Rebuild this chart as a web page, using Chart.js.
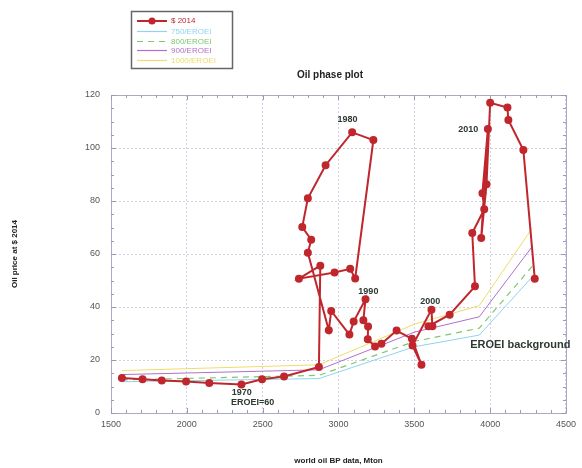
<!DOCTYPE html>
<html>
<head>
<meta charset="utf-8">
<script src="https://cdn.jsdelivr.net/npm/chart.js@4.4.1/dist/chart.umd.min.js"></script>
<style>
html,body{margin:0;padding:0;background:#fff;}
#wrap{width:582px;height:468px;position:relative;}
</style>
</head>
<body>
<div id="wrap"><canvas id="c" width="582" height="468"></canvas></div>
<script>
// World oil production (BP data, Mton), 1965-2015
const production = [1572,1708,1835,1995,2148,2360,2496,2641,2871,2880,
  2739,2974,3077,3110,3230,3090,2915,2798,2761,2820,
  2798,2936,2952,3072,3100,3178,3164,3195,3193,3241,
  3283,3383,3484,3547,3488,3613,3619,3593,3733,3900,
  3882,3961,3949,3985,3941,3976,4000,4114,4120,4219,4294];
// Oil price in $ 2014
const price = [13.2,12.7,12.3,11.9,11.3,10.8,12.7,13.8,17.4,55.6,
  50.7,53.0,54.4,50.8,103.0,105.9,93.5,81.0,70.2,65.4,
  60.5,31.2,38.5,29.6,34.5,42.9,35.0,32.6,27.8,25.1,
  26.1,31.1,28.0,18.2,25.5,39.0,32.7,32.7,37.1,47.8,
  67.9,76.9,82.9,107.2,66.0,86.3,117.1,115.3,110.6,99.2,50.7];
// EROEI background curves
const eroeiX = [1572,2871,3500,3928,4280];
const eroei750 = [11.8,13.0,25.0,29.4,51.5];
const eroei800 = [12.5,14.2,27.0,32.0,55.5];
const eroei900 = [14.5,16.3,30.5,36.3,63.0];
const eroei1000 = [16.0,18.2,33.5,40.5,70.0];
const xTicks = [1500,2000,2500,3000,3500,4000,4500];
const yTicks = [0,20,40,60,80,100,120];
const seriesLabels = ['$ 2014','750/EROEI','800/EROEI','900/EROEI','1000/EROEI'];
const annotations = [
  {text:'1980', x:3059, y:110.6, align:'center'},
  {text:'1990', x:3197, y:45.7, align:'center'},
  {text:'2000', x:3605, y:41.9, align:'center'},
  {text:'2010', x:3855, y:106.8, align:'center'},
  {text:'1970', x:2362, y:7.9, align:'center'},
  {text:'EROEI=60', x:2434, y:3.8, align:'center'},
  {text:'EROEI background', x:3868, y:25.7, align:'left', big:true}
];

const RED = '#c0272d';
const FONT = '"Liberation Sans", Arial, sans-serif';
const pts = (xs, ys) => xs.map((x,i)=>({x:x, y:ys[i]}));

const overlay = {
  id:'overlay',
  beforeDatasetsDraw(chart){
    const {ctx, chartArea:a} = chart;
    ctx.save();
    ctx.strokeStyle = '#a9a9c8';
    ctx.lineWidth = 1;
    ctx.strokeRect(a.left+0.5, a.top+0.5, a.right-a.left, a.bottom-a.top);
    const xs = chart.scales.x, ys = chart.scales.y;
    ctx.strokeStyle = '#9a9ab8';
    for(let v=1500; v<=4500; v+=100){
      const px = Math.round(xs.getPixelForValue(v))+0.5;
      const len = (v%500===0)?5:3;
      ctx.beginPath(); ctx.moveTo(px,a.bottom); ctx.lineTo(px,a.bottom-len);
      ctx.moveTo(px,a.top); ctx.lineTo(px,a.top+len); ctx.stroke();
    }
    for(let v=0; v<=120; v+=5){
      const py = Math.round(ys.getPixelForValue(v))+0.5;
      const len = (v%20===0)?5:3;
      ctx.beginPath(); ctx.moveTo(a.left,py); ctx.lineTo(a.left+len,py);
      ctx.moveTo(a.right,py); ctx.lineTo(a.right-len,py); ctx.stroke();
    }
    ctx.restore();
  },
  afterDraw(chart){
    const {ctx} = chart;
    const xs = chart.scales.x, ys = chart.scales.y;
    ctx.save();
    ctx.fillStyle = '#222';
    ctx.font = 'bold 10px ' + FONT;
    ctx.textAlign = 'center'; ctx.textBaseline = 'middle';
    ctx.fillText('Oil phase plot', 330, 75);
    annotations.forEach(an=>{
      ctx.font = (an.big ? 'bold 11px ' : 'bold 9px ') + FONT;
      ctx.fillStyle = '#2d3a30';
      ctx.textAlign = an.align;
      ctx.fillText(an.text, xs.getPixelForValue(an.x), ys.getPixelForValue(an.y));
    });
    // legend
    ctx.strokeStyle = '#666'; ctx.lineWidth = 1.5;
    ctx.strokeRect(131.5, 11.5, 101, 57);
    const ds = chart.data.datasets;
    const rowY = [21, 31.5, 41.5, 50.5, 60.5];
    ctx.font = '8px ' + FONT;
    ctx.textAlign = 'left';
    ds.forEach((d,i)=>{
      const y = rowY[i];
      ctx.strokeStyle = d.borderColor;
      ctx.lineWidth = i===0 ? 2 : 1.2;
      ctx.setLineDash(d.borderDash || []);
      ctx.beginPath(); ctx.moveTo(137,y); ctx.lineTo(167,y); ctx.stroke();
      ctx.setLineDash([]);
      if(i===0){
        ctx.fillStyle = RED;
        ctx.beginPath(); ctx.arc(152,y,3.5,0,Math.PI*2); ctx.fill();
      }
      ctx.fillStyle = d.borderColor;
      ctx.fillText(d.label, 171, y);
    });
    ctx.restore();
  }
};

new Chart(document.getElementById('c'), {
  type:'scatter',
  data:{
    datasets:[
      {label:seriesLabels[0], data:pts(production, price), showLine:true, borderColor:RED,
       backgroundColor:RED, borderWidth:2, pointRadius:3, pointBackgroundColor:RED, order:0},
      {label:seriesLabels[1], data:pts(eroeiX, eroei750), showLine:true, borderColor:'#8fd3f0',
       borderWidth:1, pointRadius:0, order:4},
      {label:seriesLabels[2], data:pts(eroeiX, eroei800), showLine:true, borderColor:'#7cc96a',
       borderWidth:1.2, borderDash:[6,5], pointRadius:0, order:3},
      {label:seriesLabels[3], data:pts(eroeiX, eroei900), showLine:true, borderColor:'#b070c8',
       borderWidth:1, pointRadius:0, order:2},
      {label:seriesLabels[4], data:pts(eroeiX, eroei1000), showLine:true, borderColor:'#eedc6a',
       borderWidth:1, pointRadius:0, order:1}
    ]
  },
  options:{
    responsive:false, animation:false,
    layout:{padding:{top:95, right:15, left:0, bottom:0}},
    plugins:{legend:{display:false}, tooltip:{enabled:false}},
    scales:{
      x:{type:'linear', min:1500, max:4500,
         afterBuildTicks(s){ s.ticks = xTicks.map(v=>({value:v})); },
         afterFit(s){ s.height = 55; },
         grid:{color:'#d0d0e0', drawTicks:false},
         border:{display:false, dash:[2,2]},
         ticks:{color:'#555', font:{size:9, family:FONT}, padding:6, callback:(v)=>String(v)},
         title:{display:true, text:'world oil BP data, Mton', color:'#222',
                font:{size:8, weight:'bold', family:FONT}, padding:{top:22, bottom:2}}
      },
      y:{type:'linear', min:0, max:120,
         afterBuildTicks(s){ s.ticks = yTicks.map(v=>({value:v})); },
         afterFit(s){ s.width = 111; },
         grid:{color:'#d0d0e0', drawTicks:false},
         border:{display:false, dash:[2,2]},
         ticks:{color:'#555', font:{size:9, family:FONT}, padding:11, callback:(v)=>String(v)},
         title:{display:true, text:'Oil price at $ 2014', color:'#222',
                font:{size:8, weight:'bold', family:FONT}, padding:{top:10,bottom:0}}
      }
    }
  },
  plugins:[overlay]
});
</script>
</body>
</html>
